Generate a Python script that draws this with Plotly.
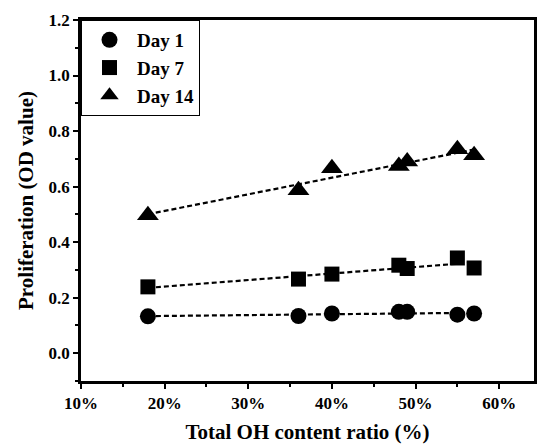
import numpy as np
import plotly.graph_objects as go

oh_ratio = [18, 36, 40, 48, 49, 55, 57]
day1 = [0.133, 0.134, 0.143, 0.149, 0.149, 0.139, 0.143]
day7 = [0.239, 0.267, 0.285, 0.317, 0.305, 0.343, 0.307]
day14 = [0.497, 0.587, 0.666, 0.674, 0.690, 0.735, 0.713]
x_ticks = [10, 20, 30, 40, 50, 60]
x_ticklabels = ["10%", "20%", "30%", "40%", "50%", "60%"]
y_ticks = [0.0, 0.2, 0.4, 0.6, 0.8, 1.0, 1.2]
y_ticklabels = ["0.0", "0.2", "0.4", "0.6", "0.8", "1.0", "1.2"]

series = [("Day 1", day1, "circle", 16), ("Day 7", day7, "square", 15), ("Day 14", day14, "triangle-up", 19)]

FONT = "Liberation Serif"
fig = go.Figure()
xs = np.array(oh_ratio, dtype=float)
xfit = np.array([xs.min(), xs.max()])
for name, ys, sym, size in series:
    k, b = np.polyfit(xs, np.array(ys), 1)
    fig.add_trace(go.Scatter(x=xfit, y=k * xfit + b, mode="lines",
                             line=dict(color="black", width=2.2, dash="5px,3px"),
                             showlegend=False, hoverinfo="skip"))
for name, ys, sym, size in series:
    fig.add_trace(go.Scatter(x=oh_ratio, y=ys, mode="markers", name="<b>" + name + "</b>",
                             marker=dict(symbol=sym, size=size, color="black")))

common = dict(showgrid=False, zeroline=False, showline=True, linecolor="black",
              linewidth=2.5, mirror=True, ticks="outside", ticklen=5, tickwidth=2,
              tickcolor="black", tickmode="array",
              tickfont=dict(family=FONT, size=17, color="black"))

fig.update_layout(
    width=537, height=445,
    margin=dict(l=81, r=0, t=20, b=64),
    paper_bgcolor="white", plot_bgcolor="white",
    font=dict(family=FONT, size=17, color="black"),
    xaxis=dict(range=[10, 64.16], tickvals=x_ticks,
               ticktext=["<b>" + t + "</b>" for t in x_ticklabels],
               minor=dict(dtick=5, tick0=0, ticks="outside", ticklen=3, tickwidth=2, tickcolor="black"),
               title=dict(text="<b>Total OH content ratio (%)</b>", standoff=13,
                          font=dict(family=FONT, size=21, color="black")),
               **common),
    yaxis=dict(range=[-0.1, 1.2], tickvals=y_ticks,
               ticktext=["<b>" + t + "</b>" for t in y_ticklabels],
               minor=dict(dtick=0.1, tick0=0, ticks="outside", ticklen=3, tickwidth=2, tickcolor="black"),
               title=dict(text="<b>Proliferation (OD value)</b>", standoff=10,
                          font=dict(family=FONT, size=21, color="black")),
               **common),
    legend=dict(x=0, y=1, xanchor="left", yanchor="top", bordercolor="black", borderwidth=1,
                bgcolor="white", tracegroupgap=0, itemwidth=45,
                font=dict(family=FONT, size=19, color="black")),
    showlegend=True,
)
fig.write_html("out.html")
